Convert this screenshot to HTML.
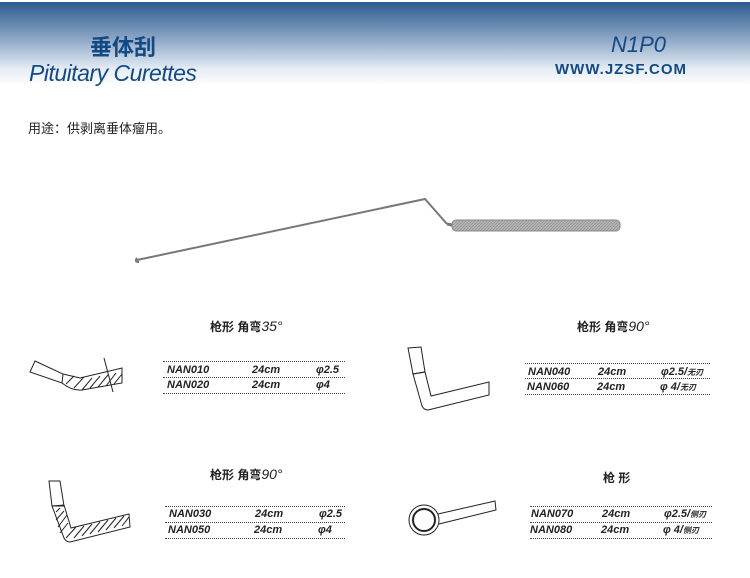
<!DOCTYPE html>
<html><head><meta charset="utf-8"><style>
body{margin:0;width:750px;height:578px;background:#fff;position:relative;overflow:hidden;font-family:"Liberation Sans","Noto Sans CJK SC",sans-serif}
.hdr{position:absolute;left:0;top:2px;width:750px;height:84px;background:linear-gradient(#2b5a8e 0%,#8fa9c6 45%,#e6edf4 80%,#fff 100%)}
.t{position:absolute;white-space:nowrap}
.row{position:absolute;font-style:italic;font-weight:bold;font-size:11px;color:#222}
.ln{position:absolute;border-top:1px dotted #444;height:0}
.ttl{position:absolute;font-size:12px;font-weight:bold;color:#222;white-space:nowrap}
</style></head><body>
<div class="hdr"></div>
<div class="t" style="left:90px;top:30px;font-size:22px;font-weight:bold;color:#134a86">垂体刮</div>
<div class="t" style="left:29px;top:60px;font-size:23px;font-style:italic;color:#134a86;letter-spacing:-0.5px">Pituitary Curettes</div>
<div class="t" style="left:611px;top:32px;font-size:22px;font-style:italic;color:#134a86">N1P0</div>
<div class="t" style="left:555px;top:61px;font-size:15px;font-weight:bold;color:#134a86;letter-spacing:1px">WWW.JZSF.COM</div>
<div class="t" style="left:28px;top:118px;font-size:13px;color:#222">用途：供剥离垂体瘤用。</div>

<svg style="position:absolute;left:0;top:0" width="750" height="578">
<defs><pattern id="kn" width="3" height="3" patternUnits="userSpaceOnUse"><rect width="3" height="3" fill="#b5b5b5"/><path d="M0 3 L3 0" stroke="#909090" stroke-width="0.7"/></pattern></defs>
<g stroke="#777" fill="none">
<path d="M137 260 L425 199 L447 224" stroke-width="2"/>
<path d="M137 258 q-3 4 2 4" stroke-width="2"/>
<rect x="452" y="220" width="168" height="11" rx="4" fill="url(#kn)" stroke="#888"/>
<path d="M447 224 L452 225" stroke-width="3"/>
</g>
<g stroke="#222" fill="none" stroke-width="1">
<path d="M35 361 L63 374 L62 383 L30 372 Z"/>
<path d="M63 374 L80 378 L122 368 L122 383 L82 390 Q72 391 62 383"/>
<path d="M104 358 L113 392"/>
<path d="M49 481 L60 481 L64 506 L52 506 Z"/>
<path d="M52 506 L64 505 L71 528 L129 514 L130 527 L70 542 Q66 542 64 538 Z"/>
<path d="M56 512 l4 -4 M56 520 l8 -9 M58 527 l9 -12 M60 533 l8 -10 M66 538 l10 -11 M74 538 l10 -12 M82 536 l10 -12 M90 534 l10 -12 M98 532 l10 -12 M106 530 l10 -12 M114 528 l10 -12 M122 526 l7 -9"/>
<path d="M66 384 l8 -8 M74 388 l10 -11 M82 390 l10 -12 M90 388 l10 -12 M98 387 l10 -12 M106 386 l10 -13 M114 384 l8 -10"/>
<path d="M408 348 L421 347 L425 372 L413 374 Z"/>
<path d="M413 374 L425 372 L431 396 L489 382 L489 395 L428 410 Q424 410 422 406 Z"/>
<circle cx="424" cy="520" r="15"/>
<circle cx="424" cy="520" r="11" stroke-width="2"/>
<path d="M438 514 L495 501 L496 510 L439 524"/>
</g>
</svg>

<div class="ttl" style="left:210px;top:318px">枪形 角弯<i style="font-size:14px;font-weight:normal">35°</i></div>
<div class="ttl" style="left:577px;top:318px">枪形 角弯<i style="font-size:14px;font-weight:normal">90°</i></div>
<div class="ttl" style="left:210px;top:466px">枪形 角弯<i style="font-size:14px;font-weight:normal">90°</i></div>
<div class="ttl" style="left:603px;top:469px">枪 形</div>

<div class="ln" style="left:163px;top:361px;width:182px"></div>
<div class="ln" style="left:163px;top:377px;width:182px"></div>
<div class="ln" style="left:163px;top:393px;width:182px"></div>
<div class="row" style="left:167px;top:364px">NAN010</div><div class="row" style="left:252px;top:364px">24cm</div><div class="row" style="left:316px;top:364px">φ2.5</div>
<div class="row" style="left:167px;top:379px">NAN020</div><div class="row" style="left:252px;top:379px">24cm</div><div class="row" style="left:316px;top:379px">φ4</div>

<div class="ln" style="left:165px;top:506px;width:180px"></div>
<div class="ln" style="left:165px;top:522px;width:180px"></div>
<div class="ln" style="left:165px;top:538px;width:180px"></div>
<div class="row" style="left:169px;top:508px">NAN030</div><div class="row" style="left:255px;top:508px">24cm</div><div class="row" style="left:319px;top:508px">φ2.5</div>
<div class="row" style="left:168px;top:524px">NAN050</div><div class="row" style="left:254px;top:524px">24cm</div><div class="row" style="left:318px;top:524px">φ4</div>

<div class="ln" style="left:525px;top:363px;width:185px"></div>
<div class="ln" style="left:525px;top:378px;width:185px"></div>
<div class="ln" style="left:525px;top:394px;width:185px"></div>
<div class="row" style="left:528px;top:366px">NAN040</div><div class="row" style="left:598px;top:366px">24cm</div><div class="row" style="left:661px;top:366px">φ2.5/<span style="font-size:8px">无刃</span></div>
<div class="row" style="left:527px;top:381px">NAN060</div><div class="row" style="left:597px;top:381px">24cm</div><div class="row" style="left:660px;top:381px">φ 4/<span style="font-size:8px">无刃</span></div>

<div class="ln" style="left:530px;top:506px;width:182px"></div>
<div class="ln" style="left:530px;top:522px;width:182px"></div>
<div class="ln" style="left:530px;top:538px;width:182px"></div>
<div class="row" style="left:531px;top:508px">NAN070</div><div class="row" style="left:602px;top:508px">24cm</div><div class="row" style="left:664px;top:508px">φ2.5/<span style="font-size:8px">侧刃</span></div>
<div class="row" style="left:530px;top:524px">NAN080</div><div class="row" style="left:601px;top:524px">24cm</div><div class="row" style="left:663px;top:524px">φ 4/<span style="font-size:8px">侧刃</span></div>
</body></html>
